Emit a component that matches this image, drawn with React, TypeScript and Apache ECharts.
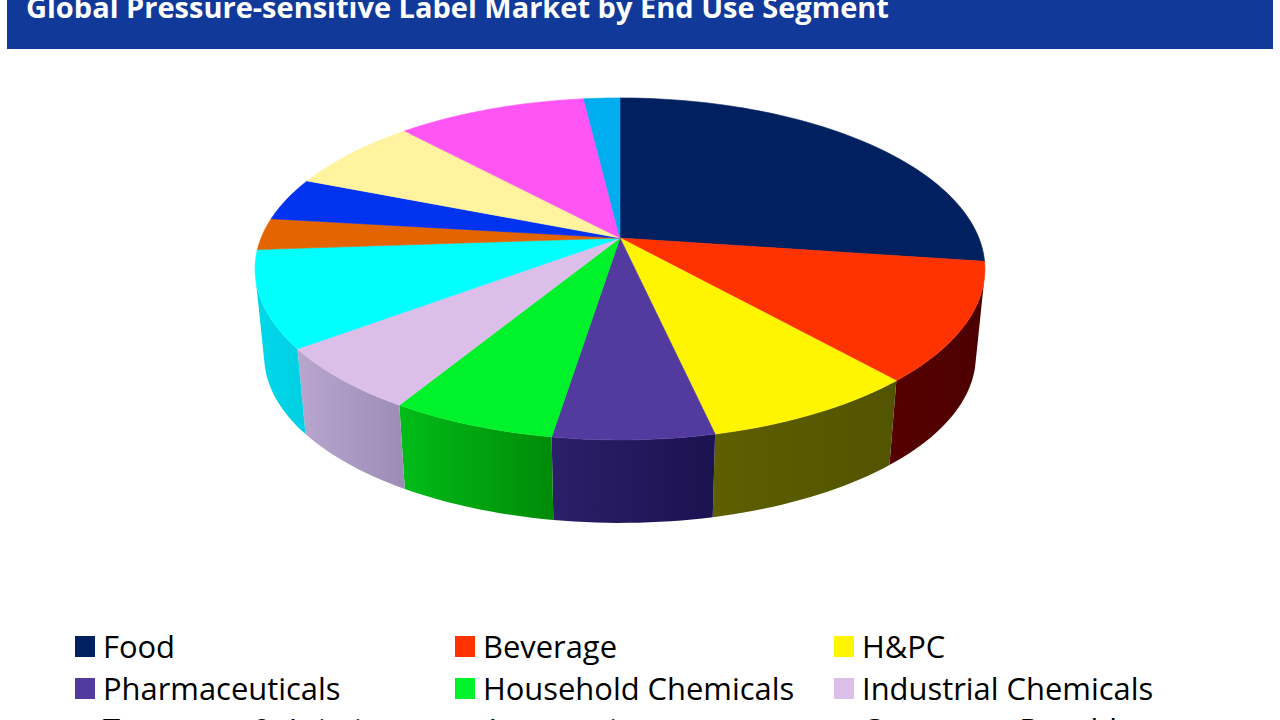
import React, { useEffect, useRef } from "react";
import * as echarts from "echarts";

const titleText = "Global Pressure-sensitive Label Market by End Use Segment";
// Slices clockwise from 12 o'clock; the last slices' legend rows lie below the page edge in the reference.
const categories = ["Food", "Beverage", "H&PC", "Pharmaceuticals", "Household Chemicals", "Industrial Chemicals", "Automotive", "Transport & Aviation", "", "Consumer Durables", "", ""];
const values = [27.2, 11.2, 8.1, 6.0, 6.2, 6.1, 9.1, 3.0, 4.1, 7.1, 10.0, 1.9];
const topColors = ["#00205f", "#ff3300", "#fff500", "#523a9e", "#00f22a", "#dcbfe9", "#00ffff", "#e46400", "#0033f0", "#fff3a0", "#ff55f5", "#00aef0"];
const wallLeft: Record<number, string> = { 1: "#560000", 2: "#5e5f00", 3: "#2b1f68", 4: "#00bd18", 5: "#b8a6cf", 6: "#00d8ea" };
const wallRight: Record<number, string> = { 1: "#4c0000", 2: "#525400", 3: "#1b1250", 4: "#008a08", 5: "#9d8cb6", 6: "#00d0e2" };
const wallIndices = [1, 2, 3, 4, 5, 6];
const legendRows = [[0, 1, 2], [3, 4, 5], [7, 6, 9]];
const legendColumns = [75, 455, 834];
const legendRowY = [646, 688, 728.5];
const legendSwatchY = [636, 678, 720];

const CX = 620, CY = 238, R = 358.9, S = 165.4, K = 0.181;
const BOTTOM_SCALE = 0.975, DEPTH = 88;
// The visible outer wall runs between the two points where the rim turns away from the viewer.
const WALL_START_DEG = 103, WALL_END_DEG = 257;

function project(deg: number) {
  const a = (deg * Math.PI) / 180;
  const X = Math.sin(a), Y = -Math.cos(a);
  const w = 1 - K * Y;
  return [CX + (R * X) / w, CY + (S * Y) / w];
}
function lower(p: number[]) {
  return [CX + (p[0] - CX) * BOTTOM_SCALE, CY + (p[1] - CY) * BOTTOM_SCALE + DEPTH];
}
const total = values.reduce((s, v) => s + v, 0);
function sliceAngles(i: number) {
  let before = 0;
  for (let j = 0; j < i; j++) before += values[j];
  return [(before / total) * 360, ((before + values[i]) / total) * 360];
}
function arc(a0: number, a1: number) {
  const n = Math.max(4, Math.ceil((a1 - a0) / 1.5));
  const pts: number[][] = [];
  for (let k = 0; k <= n; k++) pts.push(project(a0 + ((a1 - a0) * k) / n));
  return pts;
}

export default function App() {
  const ref = useRef<HTMLDivElement>(null);
  useEffect(() => {
    const chart = echarts.init(ref.current!, null, { renderer: "svg" });
    const legendGraphics: any[] = [];
    legendRows.forEach((row, r) =>
      row.forEach((idx, c) => {
        legendGraphics.push({
          type: "rect",
          shape: { x: legendColumns[c], y: legendSwatchY[r], width: 20, height: 21 },
          style: { fill: topColors[idx] },
        });
        legendGraphics.push({
          type: "text",
          x: legendColumns[c] + 28,
          y: legendRowY[r],
          style: {
            text: categories[idx],
            font: '30.9px "Open Sans"',
            fill: "#000",
            verticalAlign: "middle",
          },
        });
      })
    );
    chart.setOption({
      animation: false,
      backgroundColor: "#ffffff",
      graphic: [
        { type: "rect", shape: { x: 7, y: -2, width: 1266, height: 51 }, style: { fill: "#10399a" } },
        {
          type: "text",
          x: 26,
          y: 6,
          style: { text: titleText, font: 'bold 29px "Open Sans"', fill: "#ffffff", verticalAlign: "middle" },
        },
        ...legendGraphics,
      ],
      series: [
        {
          type: "custom",
          coordinateSystem: "none",
          silent: true,
          data: wallIndices.map((i) => values[i]),
          z: 1,
          renderItem: (params: any) => {
            const i = wallIndices[params.dataIndex];
            let [a0, a1] = sliceAngles(i);
            if (params.dataIndex === 0) a0 = WALL_START_DEG;
            if (params.dataIndex === wallIndices.length - 1) a1 = WALL_END_DEG;
            const top = arc(a0, a1);
            const bottom = top.map(lower).reverse();
            return {
              type: "polygon",
              shape: { points: [...top, ...bottom] },
              style: {
                fill: new echarts.graphic.LinearGradient(0, 0, 1, 0, [
                  { offset: 0, color: wallLeft[i] },
                  { offset: 1, color: wallRight[i] },
                ]),
              },
            };
          },
        },
        {
          type: "custom",
          coordinateSystem: "none",
          silent: true,
          data: values,
          z: 2,
          renderItem: (params: any) => {
            const i = params.dataIndex;
            const [a0, a1] = sliceAngles(i);
            return {
              type: "polygon",
              shape: { points: [[CX, CY], ...arc(a0, a1)] },
              style: { fill: topColors[i], stroke: topColors[i], lineWidth: 0.6 },
            };
          },
        },
      ],
    });
    return () => chart.dispose();
  }, []);
  return <div ref={ref} style={{ position: "fixed", left: 0, top: 0, width: 1280, height: 720 }} />;
}
